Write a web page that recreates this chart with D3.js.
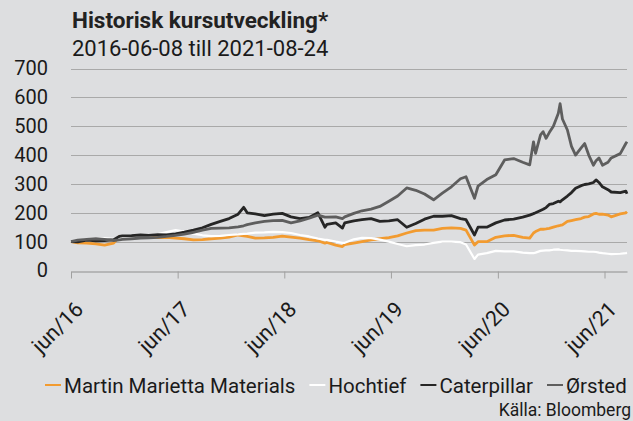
<!DOCTYPE html>
<html>
<head>
<meta charset="utf-8">
<script src="https://cdn.jsdelivr.net/npm/d3@7"></script>
<style>
  body { margin: 0; background: #dddee0; }
  svg { display: block; font-family: Roboto, "Noto Sans", sans-serif; }
</style>
</head>
<body>
<div id="chart"></div>
<script>
// dates shared by all series (monthly, plus a few extra points at big moves)
const dates = [
  "2016-06-08","2016-07-01","2016-08-01","2016-09-01","2016-10-01","2016-11-01","2016-11-20","2016-12-01",
  "2017-01-01","2017-02-01","2017-03-01","2017-04-01","2017-05-01","2017-06-01","2017-07-01","2017-08-01",
  "2017-09-01","2017-10-01","2017-11-01","2017-12-01",
  "2018-01-01","2018-01-20","2018-02-01","2018-03-01","2018-04-01","2018-05-01","2018-06-01","2018-07-01",
  "2018-08-01","2018-09-01","2018-10-01","2018-10-25","2018-11-01","2018-12-01","2018-12-24",
  "2019-01-01","2019-02-01","2019-03-01","2019-04-01","2019-05-01","2019-06-01","2019-07-01","2019-08-01",
  "2019-09-01","2019-10-01","2019-11-01","2019-12-01",
  "2020-01-01","2020-02-01","2020-02-20","2020-03-20","2020-04-01","2020-05-01","2020-06-01","2020-07-01",
  "2020-08-01","2020-09-01","2020-09-25","2020-10-08","2020-10-15","2020-11-01","2020-11-10","2020-11-20",
  "2020-12-01","2020-12-15",
  "2021-01-01","2021-01-07","2021-01-15","2021-02-01","2021-02-15","2021-03-01","2021-03-20","2021-04-01",
  "2021-04-15","2021-05-01","2021-05-10","2021-05-20","2021-06-01","2021-06-20","2021-07-01","2021-08-01",
  "2021-08-20","2021-08-24"
];

const martinMarietta = [
  100,96,95,92,88,95,117,118,
  117,115,116,114,115,112,110,106,
  107,110,112,116,
  123,120,118,112,113,115,119,116,
  112,107,103,95,97,88,83,
  90,95,100,106,110,114,120,130,
  138,140,140,146,
  148,146,140,88,100,100,115,120,
  122,115,112,130,135,143,143,144,
  146,150,
  155,156,158,170,173,176,180,185,
  187,196,198,195,195,192,186,196,
  200,204
];

const hochtief = [
  100,103,108,111,112,110,112,113,
  115,117,120,126,133,140,135,128,
  122,119,120,123,
  125,127,128,131,132,134,133,130,
  123,118,111,106,106,100,96,
  96,108,113,112,107,100,92,84,
  88,90,96,100,
  100,98,90,40,55,60,68,66,
  66,62,60,60,62,68,69,70,
  70,72,
  73,72,71,70,68,68,67,66,
  65,65,64,62,60,58,57,58,
  60,61
];

const caterpillar = [
  100,99,105,103,104,107,118,120,
  121,123,122,124,123,127,133,140,
  148,160,170,180,
  195,219,200,196,190,195,198,186,
  180,184,200,150,160,165,147,
  165,172,176,180,170,172,176,150,
  163,178,188,188,
  190,180,176,123,150,150,165,175,
  178,185,192,197,200,208,212,218,
  229,232,
  240,238,245,258,270,285,294,298,
  300,305,314,305,290,280,272,270,
  275,266
];

const orsted = [
  100,105,108,110,108,104,106,108,
  110,112,113,115,118,122,126,132,
  140,146,147,148,
  151,155,159,165,170,173,174,165,
  172,181,192,185,185,186,180,
  186,198,207,213,222,240,258,286,
  278,265,245,268,
  290,318,325,250,292,315,332,383,
  388,375,366,446,406,470,481,458,
  478,500,
  545,578,525,487,430,400,425,440,
  400,365,380,390,365,375,390,405,
  440,446
];

const seriesNames = ["Martin Marietta Materials", "Hochtief", "Caterpillar", "Ørsted"];
const seriesColors = ["#f29b30", "#ffffff", "#262626", "#5e5e5e"];
const seriesValues = [martinMarietta, hochtief, caterpillar, orsted];

const yTicks = [0, 100, 200, 300, 400, 500, 600, 700];
const xTickYears = [2016, 2017, 2018, 2019, 2020, 2021];

let width = 633,
height = 421;

let svg = d3.select("#chart")
  .append("svg")
  .attr("width", width)
  .attr("height", height);

let parse = d3.timeParse("%Y-%m-%d");

let x = d3.scaleTime()
  .domain([parse("2016-06-08"), parse("2021-08-24")])
  .range([71, 627]);

let y = d3.scaleLinear()
  .domain([0, 700])
  .range([270.5, 68.5]);

// title
svg.append("text")
  .attr("x", 72)
  .attr("y", 27.5)
  .attr("font-size", 22.5)
  .attr("font-weight", "bold")
  .attr("fill", "#222")
  .text("Historisk kursutveckling*");

svg.append("text")
  .attr("x", 72)
  .attr("y", 56)
  .attr("font-size", 22)
  .attr("fill", "#1a1a1a")
  .text("2016-06-08 till 2021-08-24");

// gridlines (not on 0, that one is the axis)
svg.append("g")
  .selectAll("line")
  .data(yTicks.filter(d => d > 0))
  .join("line")
  .attr("x1", 71)
  .attr("x2", 627)
  .attr("y1", d => Math.round(y(d)) + 0.5)
  .attr("y2", d => Math.round(y(d)) + 0.5)
  .attr("stroke", "#a9a9a9")
  .attr("stroke-width", 1);

// y axis labels
let yAxis = svg.append("g")
  .attr("transform", "translate(48,0)")
  .call(d3.axisLeft(y).tickValues(yTicks).tickSize(0).tickPadding(0));
yAxis.select(".domain").remove();
yAxis.selectAll("text")
  .attr("font-size", 20)
  .attr("font-family", "Roboto, sans-serif")
  .attr("fill", "#1a1a1a");

// x axis
let xAxis = svg.append("g")
  .attr("transform", `translate(0,${Math.round(y(0)) + 0.5})`)
  .call(d3.axisBottom(x)
    .tickValues(xTickYears.map(yr => new Date(yr, 5, 8)))
    .tickSize(7)
    .tickSizeOuter(0)
    .tickFormat(d => "jun/" + String(d.getFullYear()).slice(2)));
xAxis.select(".domain").attr("stroke", "#8e8e8e");
xAxis.selectAll(".tick line").attr("stroke", "#a0a0a0");
xAxis.selectAll("text")
  .attr("font-size", 21.5)
  .attr("font-family", "Roboto, sans-serif")
  .attr("fill", "#1a1a1a")
  .attr("text-anchor", "end")
  .attr("dy", 0)
  .attr("transform", "translate(6,32) rotate(-45)");

// lines
let line = d3.line()
  .x((d, i) => x(parse(dates[i])))
  .y(d => y(d));

svg.append("g")
  .selectAll("path")
  .data(seriesValues)
  .join("path")
  .attr("d", d => line(d))
  .attr("fill", "none")
  .attr("stroke", (d, i) => seriesColors[i])
  .attr("stroke-width", (d, i) => i == 1 ? 2.2 : 2.8)
  .attr("stroke-linejoin", "round");

// legend
let legend = svg.append("g").attr("transform", "translate(0,385)");
let lx = 45;
seriesNames.forEach((name, i) => {
  legend.append("line")
    .attr("x1", lx).attr("x2", lx + 16)
    .attr("y1", 0).attr("y2", 0)
    .attr("stroke", seriesColors[i])
    .attr("stroke-width", 2);
  let t = legend.append("text")
    .attr("x", lx + 19)
    .attr("y", 7.5)
    .attr("font-size", 20.5)
    .attr("fill", "#1a1a1a")
    .text(name);
  lx += 19 + t.node().getComputedTextLength() + 14;
});

svg.append("text")
  .attr("x", 631)
  .attr("y", 416)
  .attr("text-anchor", "end")
  .attr("font-size", 17.5)
  .attr("fill", "#1a1a1a")
  .text("Källa: Bloomberg");
</script>
</body>
</html>
